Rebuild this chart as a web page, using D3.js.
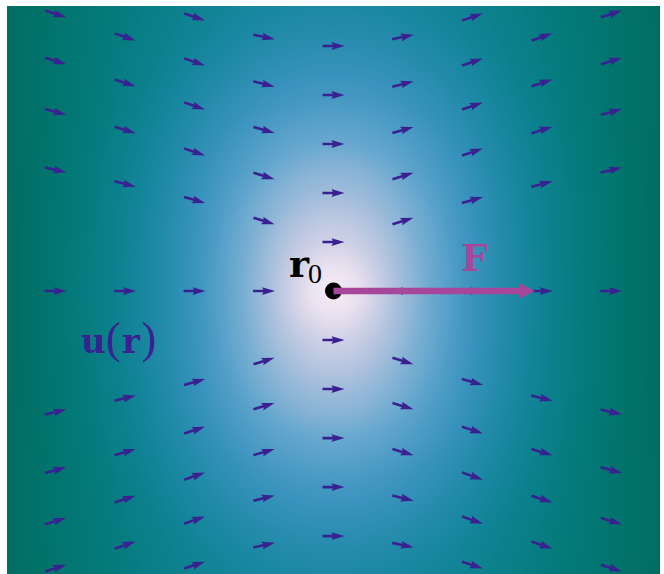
<!DOCTYPE html>
<html>
<head>
<meta charset="utf-8">
<script src="https://cdnjs.cloudflare.com/ajax/libs/d3/7.8.5/d3.min.js"></script>
<style>
  body { margin: 0; background: #fff; }
  svg { display: block; }
</style>
</head>
<body>
<script>
// quiver grid columns (grid units, force point r0 at 0)
var columns = [-4, -3, -2, -1, 0, 1, 2, 3, 4];

// offsets of the arrows above the axis, one list per |column| (mirrored below)
var rowOffsets = [
  [0.705, 1.41, 2.115, 2.82, 3.525],
  [0, 1.007, 1.655, 2.317, 2.978, 3.655],
  [0, 1.309, 2.0, 2.662, 3.295, 3.942],
  [0, 1.54, 2.317, 2.993, 3.655],
  [0, 1.741, 2.576, 3.309, 3.986]
];

// tilt of each arrow in degrees (upper left quadrant, toward the axis)
var rowAngles = [
  [0, 0, 0, 0, 0],
  [0, 17, 17, 16, 14, 12],
  [0, 16, 18, 19, 19, 18],
  [0, 14, 17, 18, 19],
  [0, 13, 15, 17, 18]
];

// point force
var forcePoint = [0, 0];
var forceVec = [2.9, 0];

var alongR = [0, 0.33, 0.62, 0.91, 1.34, 1.91, 2.35, 2.63, 3.06, 3.35, 4.07, 4.75, 6.5];
var alongT = [0.07, 0.13, 0.25, 0.36, 0.48, 0.6, 0.66, 0.69, 0.735, 0.76, 0.82, 0.865, 0.93];
var acrossR = [0, 0.3, 0.73, 1.41, 1.74, 2.12, 2.82, 3.51, 4.1, 6.5];
var acrossT = [0.07, 0.12, 0.25, 0.38, 0.43, 0.5, 0.59, 0.65, 0.69, 0.78];

var W = 664, H = 574;
var plot = {left: 7, top: 6, right: 660, bottom: 574};
var arrowCol = "#3a2192",
    forceCol = "#a8469c";

var x = d3.scaleLinear().domain([-4.7, 4.7]).range([plot.left, plot.right]);
var y = d3.scaleLinear().domain([-4.07, 4.1]).range([plot.bottom, plot.top]);
var color = d3.scaleSequential(d3.interpolatePuBuGn).domain([0, 1]);
var along = d3.scaleLinear().domain(alongR).range(alongT).clamp(true);
var across = d3.scaleLinear().domain(acrossR).range(acrossT).clamp(true);

var svg = d3.select("body").append("svg")
    .attr("width", W)
    .attr("height", H);

svg.append("rect")
    .attr("width", W)
    .attr("height", H)
    .attr("fill", "#fff");

// Background field drawn on a canvas, then placed in the svg
function shade(u, v) {
  var r2 = u * u + v * v;
  var r = Math.sqrt(r2);
  var c = r2 > 0 ? (u * u) / r2 : 0.5;
  return c * along(r) + (1 - c) * across(r);
}

var pw = plot.right - plot.left,
    ph = plot.bottom - plot.top;
var canvas = document.createElement("canvas");
canvas.width = pw;
canvas.height = ph;
var ctx = canvas.getContext("2d");
var img = ctx.createImageData(pw, ph);
var lut = d3.range(512).map(function(i) { return d3.rgb(color(i / 511)); });
for (var j = 0; j < ph; j++) {
  var v = y.invert(plot.top + j + 0.5);
  for (var i = 0; i < pw; i++) {
    var u = x.invert(plot.left + i + 0.5);
    var c = lut[Math.round(shade(u, v) * 511)];
    var p = (j * pw + i) * 4;
    img.data[p] = c.r;
    img.data[p + 1] = c.g;
    img.data[p + 2] = c.b;
    img.data[p + 3] = 255;
  }
}
ctx.putImageData(img, 0, 0);

svg.append("image")
    .attr("x", plot.left)
    .attr("y", plot.top)
    .attr("width", pw)
    .attr("height", ph)
    .attr("href", canvas.toDataURL());

// Build the arrow list from the tables
var arrows = [];
columns.forEach(function(k) {
  var a = Math.abs(k);
  rowOffsets[a].forEach(function(off, j) {
    var ang = rowAngles[a][j];
    var sk = k < 0 ? 1 : -1;
    if (off === 0) {
      arrows.push({u: k, v: 0, ang: 0});
    } else {
      arrows.push({u: k, v: off, ang: ang * sk});
      arrows.push({u: k, v: -off, ang: -ang * sk});
    }
  });
});

// quiver style arrow, pivot in the middle
var w = 2.6, L = 22;
var arrowShape = [
  [-L / 2, -w / 2], [L / 2 - 4.5 * w, -w / 2], [L / 2 - 5 * w, -1.5 * w],
  [L / 2, 0], [L / 2 - 5 * w, 1.5 * w], [L / 2 - 4.5 * w, w / 2], [-L / 2, w / 2]
];
var line = d3.line();

svg.append("g").selectAll("path")
    .data(arrows)
  .enter().append("path")
    .attr("transform", function(d) {
      return "translate(" + x(d.u) + "," + y(d.v) + ") rotate(" + d.ang + ")";
    })
    .attr("d", line(arrowShape) + "Z")
    .attr("fill", arrowCol);

// Point r0
svg.append("circle")
    .attr("cx", x(forcePoint[0]))
    .attr("cy", y(forcePoint[1]))
    .attr("r", 8.5)
    .attr("fill", "black");

// Force arrow
var fx0 = x(forcePoint[0]), fy0 = y(forcePoint[1]);
var fLen = x(forcePoint[0] + forceVec[0]) - fx0;
var fShape = [
  [0, -3.2], [fLen - 15, -3.2], [fLen - 16, -8], [fLen, 0],
  [fLen - 16, 8], [fLen - 15, 3.2], [0, 3.2]
];
svg.append("path")
    .attr("transform", "translate(" + fx0 + "," + fy0 + ")")
    .attr("d", line(fShape) + "Z")
    .attr("fill", forceCol);

// Labels
svg.append("text")
    .attr("x", 289)
    .attr("y", 277)
    .style("font-family", "DejaVu Serif")
    .style("font-size", "38px")
    .style("font-weight", "bold")
    .style("fill", "black")
    .text("r");
svg.append("text")
    .attr("x", 308)
    .attr("y", 283)
    .style("font-family", "Liberation Serif")
    .style("font-size", "28px")
    .style("fill", "black")
    .text("0");

svg.append("text")
    .attr("x", 461)
    .attr("y", 271)
    .style("font-family", "DejaVu Serif")
    .style("font-size", "38px")
    .style("font-weight", "bold")
    .style("fill", forceCol)
    .text("F");

var ur = svg.append("text")
    .attr("y", 353)
    .style("font-family", "DejaVu Serif")
    .style("fill", arrowCol);
ur.append("tspan").attr("x", 81).style("font-size", "34px").style("font-weight", "bold").text("u");
ur.append("tspan").attr("x", 106).style("font-family", "Liberation Serif").style("font-size", "44px").text("(");
ur.append("tspan").attr("x", 122).style("font-size", "34px").style("font-weight", "bold").text("r");
ur.append("tspan").attr("x", 141.5).style("font-family", "Liberation Serif").style("font-size", "44px").text(")");
</script>
</body>
</html>
